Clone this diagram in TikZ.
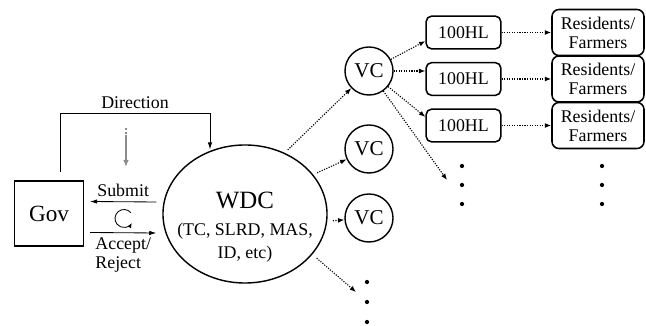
\documentclass[tikz,border=0pt]{standalone}
\usepackage{fontspec}
\setmainfont{Liberation Serif}
\usepackage{tikz}
\definecolor{hintgray}{RGB}{140, 140, 140}
\usetikzlibrary{shapes.geometric, arrows.meta, positioning, calc}

\begin{document}
\begin{tikzpicture}[
    x=0.025cm, y=-0.025cm,
    txt/.style={font=\fontsize{12.7}{13.5}\selectfont},
    govbox/.style={rectangle, draw, line width=1pt, minimum width=1.72cm,
                   minimum height=1.62cm, font=\fontsize{16.5}{18}\selectfont},
    wdcshape/.style={ellipse, draw, line width=1pt, minimum width=4.1cm,
                     minimum height=3.45cm},
    vcnode/.style={circle, draw, line width=1pt, minimum size=1.2cm,
                   inner sep=0pt, font=\fontsize{15}{16}\selectfont},
    hlbox/.style={rectangle, draw, rounded corners=4pt, line width=1.1pt,
                  minimum width=1.87cm, minimum height=0.82cm, inner sep=1pt, txt},
    resbox/.style={rectangle, draw, rounded corners=5pt, line width=1.1pt,
                   minimum width=2.3cm, minimum height=1.15cm, inner sep=1pt,
                   align=center, txt},
    solidarr/.style={-{Latex[length=5pt, width=3.2pt]}, line width=0.6pt},
    dotarr/.style={-{Latex[length=4.5pt, width=3.5pt]}, densely dotted, line width=0.8pt},
    dotmark/.style={circle, fill, inner sep=0pt, minimum size=3pt}
]
    \useasboundingbox (0,0) rectangle (646,326);

    % left part
    \node[govbox] (gov) at (49,213.5) {Gov};
    \node[wdcshape] (wdc) at (245,214) {};
    \node[txt, align=center, font=\fontsize{12.7}{16.3}\selectfont] (wdclabel)
        at ($(wdc.center)+(0,13)$)
        {{\fontsize{17.7}{20}\selectfont WDC}\\[3pt](TC, SLRD, MAS,\\ID, etc)};

    \coordinate (dirfoot) at ($(gov.north)+(11,-8)$);
    \coordinate (dirturn) at ($(wdc.119)+(0,-37)$);
    \draw[solidarr, shorten >=1pt] (dirfoot) |- node[pos=0.75, above, txt] {Direction} (dirturn) -- (wdc.119);

    \coordinate (hinttop) at (126,128);
    \coordinate (hintmid) at (126,136);
    \coordinate (hintend) at (126,167);
    \draw[hintgray, line width=1.1pt, dash pattern=on 1.5pt off 1pt] (hinttop) -- (hintmid);
    \draw[hintgray, line width=1.1pt, -{Latex[length=5pt, width=4pt]}] (hintmid) -- (hintend);

    \draw[solidarr] ($(wdc.west)+(-6,-12)$) -- node[above, txt] {Submit} ($(gov.east)+(6,-12)$);
    \draw[solidarr] ($(gov.east)+(6,19)$) -- node[below, txt, align=left] {Accept/\\Reject} ($(wdc.west)+(-6,19)$);

    \coordinate (cyc) at (124,218.5);
    \draw[line width=0.6pt, -{Latex[length=3.5pt, width=3pt]}] ($(cyc)+(-40:9)$) arc[start angle=-40, end angle=-330, radius=9];

    % villages
    \node[vcnode] (vc1) at (369,71) {VC};
    \node[vcnode] (vc2) at (369,149) {VC};
    \node[vcnode] (vc3) at (369,218) {VC};

    \draw[dotarr, shorten <=3pt] (wdc.57) -- (vc1);
    \draw[dotarr, shorten <=3pt] (wdc.30) -- (vc2);
    \draw[dotarr, shorten <=4pt] (wdc.-5) -- (vc3);

    \coordinate (wdcmore) at (356,292);
    \draw[dotarr, shorten <=4pt] (wdc.-31) -- (wdcmore);
    \foreach \y [count=\i] in {282,302,322}
        \node[dotmark] (wdcdot\i) at (367,\y) {};

    % hamlets and residents
    \foreach \y [count=\i] in {32.5,79,125.5} {
        \node[hlbox] (hl\i) at (463.5,\y) {100HL};
        \node[resbox] (res\i) at (598,\y) {Residents/\\Farmers};
        \draw[dotarr] (hl\i) -- (res\i);
    }

    \draw[dotarr] (vc1) -- ($(hl1.west)!0.5!(hl1.south west)$);
    \draw[dotarr] (vc1) -- (vc1 -| hl2.west);
    \draw[dotarr] (vc1) -- ($(hl3.west)!0.5!(hl3.north west)$);
    \coordinate (hlmore) at (447,180);
    \draw[dotarr] (vc1) -- (hlmore);

    \foreach \y [count=\i] in {166,185,204} {
        \node[dotmark] (hldot\i) at (462,\y) {};
        \node[dotmark] (resdot\i) at (602,\y) {};
    }
\end{tikzpicture}
\end{document}
